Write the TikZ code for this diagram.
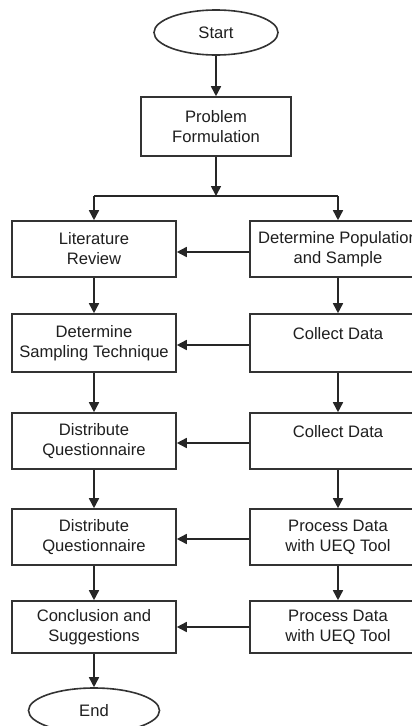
\documentclass[tikz,border=0pt]{standalone}
\usepackage{fontspec}
\setmainfont{Liberation Sans}
\usetikzlibrary{arrows.meta,shapes.geometric}

\tikzset{
  every node/.style={font=\fontsize{16.6}{20}\selectfont, text=black!88},
  procbox/.style={draw=black!80, line width=1.6pt, rectangle, align=center, inner sep=0pt},
  leftbox/.style={procbox, minimum width=164pt},
  rightbox/.style={procbox, minimum width=176pt},
  terminal/.style={draw=black!80, line width=1.6pt, ellipse, inner sep=0pt},
  flow/.style={draw=black!85, line width=1.6pt, -{Triangle[length=10pt,width=10pt]}},
  plain/.style={draw=black!85, line width=1.6pt}
}

\begin{document}
\begin{tikzpicture}[x=1pt,y=-1pt]
  \useasboundingbox (0,0) rectangle (412,726);
  \fill[white] (0,0) rectangle (412,726);
  \clip (0,0) rectangle (412,726);

  % start / end terminals and the first step
  \node[terminal, minimum width=124pt, minimum height=45pt] (start) at (216,32.5) {Start};
  \node[procbox, minimum width=150pt, minimum height=59pt] (prob) at (216,126.5) {Problem\\Formulation};

  % left column
  \node[leftbox, minimum height=56pt] (l1) at (94,249) {Literature\\Review};
  \node[leftbox, minimum height=58pt] (l2) at (94,343) {Determine\\Sampling Technique};
  \node[leftbox, minimum height=56pt] (l3) at (94,441) {Distribute\\Questionnaire};
  \node[leftbox, minimum height=56pt] (l4) at (94,537) {Distribute\\Questionnaire};
  \node[leftbox, minimum height=52pt] (l5) at (94,627) {Conclusion and\\Suggestions};
  \node[terminal, minimum width=131pt, minimum height=45pt] (end) at (94,710.5) {End};

  % right column
  \node[rightbox, minimum height=56pt] (r1) at (338,249) {Determine Population\\and Sample};
  \node[rightbox, minimum height=58pt] (r2) at (338,343) {Collect Data\\\mbox{}};
  \node[rightbox, minimum height=56pt] (r3) at (338,441) {Collect Data\\\mbox{}};
  \node[rightbox, minimum height=56pt] (r4) at (338,537) {Process Data\\with UEQ Tool};
  \node[rightbox, minimum height=52pt] (r5) at (338,627) {Process Data\\with UEQ Tool};

  % split point below the problem formulation
  \coordinate (split) at (216,196);

  \draw[flow] (start) -- (prob);
  \draw[flow] (prob) -- (split);
  \draw[plain] (split) -- (split -| l1.center);
  \draw[plain] (split) -- (split -| r1.center);
  \draw[flow] (split -| l1.center) -- (l1);
  \draw[flow] (split -| r1.center) -- (r1);

  % vertical flow in each column
  \draw[flow] (l1) -- (l2);
  \draw[flow] (l2) -- (l3);
  \draw[flow] (l3) -- (l4);
  \draw[flow] (l4) -- (l5);
  \draw[flow] (l5) -- (end);
  \draw[flow] (r1) -- (r2);
  \draw[flow] (r2) -- (r3);
  \draw[flow] (r3) -- (r4);
  \draw[flow] (r4) -- (r5);

  % cross links from right to left
  \draw[flow] ([yshift=-3pt]r1.west) -- ([yshift=-3pt]l1.east);
  \draw[flow] ([yshift=-2pt]r2.west) -- ([yshift=-2pt]l2.east);
  \draw[flow] ([yshift=-2pt]r3.west) -- ([yshift=-2pt]l3.east);
  \draw[flow] ([yshift=-2pt]r4.west) -- ([yshift=-2pt]l4.east);
  \draw[flow] (r5.west) -- (l5.east);
\end{tikzpicture}
\end{document}
